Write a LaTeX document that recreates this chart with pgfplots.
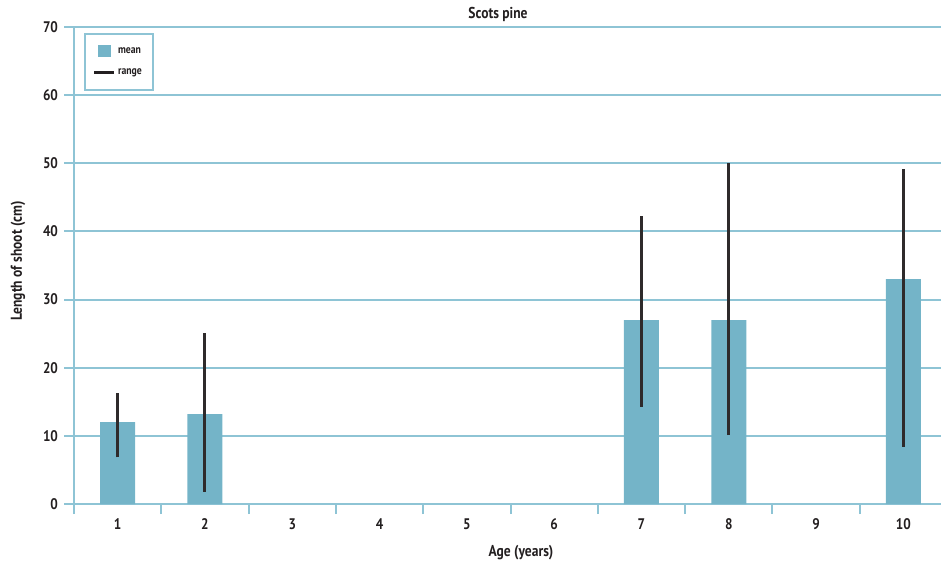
\documentclass[border=0pt]{standalone}
\usepackage{pgfplots}
\pgfplotsset{compat=1.18}
\usepackage{pgfplotstable}
\usepackage{fontspec}
\setmainfont{PT Sans}[FakeStretch=0.86]
\definecolor{barc}{HTML}{74B4C8}
\definecolor{gridc}{HTML}{8EC4D5}
\definecolor{txt}{HTML}{231F20}
\pgfplotstableread{
x mean
1 12.0
2 13.2
7 27.0
8 27.0
10 33.0
}\means
\pgfplotstableread{
x y
1 6.85
1 16.3
1 nan
2 1.8
2 25.1
2 nan
7 14.3
7 42.2
7 nan
8 10.1
8 50.1
8 nan
10 8.4
10 49.2
}\ranges
\begin{document}
\begin{tikzpicture}[x=0.75pt,y=0.75pt]
\useasboundingbox (0,0) rectangle (941,571);
\begin{axis}[
  at={(74*0.75pt,67*0.75pt)}, anchor=south west,
  scale only axis, width=873*0.75pt, height=477*0.75pt,
  xmin=0.5, xmax=10.5, ymin=0, ymax=70,
  axis x line*=bottom, axis y line*=left,
  axis line style={gridc, line width=1.5pt},
  xtick={1,...,10}, major x tick style={draw=none},
  minor xtick={0.5,1.5,...,10.5},
  minor tick length=7.5pt,
  ytick={0,10,...,70}, major tick length=7.5pt,
  tick align=outside,
  tick style={gridc, line width=1.5pt},
  ymajorgrids, grid style={gridc, line width=1.5pt}, major grid style={gridc, line width=1.5pt},
  /pgf/number format/assume math mode=true,
  ticklabel style={font=\bfseries\fontsize{11.5}{13}\selectfont, text=txt},
  xticklabel style={yshift=0pt},
  yticklabel style={xshift=-1pt},
  legend style={draw=gridc, line width=1.5pt, at={(0.0115,0.987)}, anchor=north west,
    font=\bfseries\fontsize{8.5}{10}\selectfont, text=txt, inner xsep=6pt, inner ysep=8pt,
    row sep=6pt, /tikz/every even column/.append style={column sep=2pt}},
  legend cell align=left,
  clip=false,
]
\addplot[ybar, bar width=26.25pt, fill=barc, draw=none,
  legend image code/.code={\fill[barc] (3pt,-4.5pt) rectangle (12.5pt,4.5pt);}] table[x=x,y=mean]{\means};
\addlegendentry{mean}
\addplot[color=txt!95, line width=2.25pt, unbounded coords=jump, no marks,
  legend image code/.code={\draw[line width=1.8pt, txt] (0pt,0pt) -- (15pt,0pt);}] table[x=x,y=y]{\ranges};
\addlegendentry{range}
\end{axis}
\node[font=\bfseries\fontsize{11.8}{13}\selectfont, text=txt] at (498,571-14) {Scots pine};
\node[font=\bfseries\fontsize{11.8}{13}\selectfont, text=txt] at (521,571-553) {Age (years)};
\node[font=\bfseries\fontsize{11.8}{13}\selectfont, text=txt, rotate=90] at (18,571-261) {Length of shoot (cm)};
\end{tikzpicture}
\end{document}
